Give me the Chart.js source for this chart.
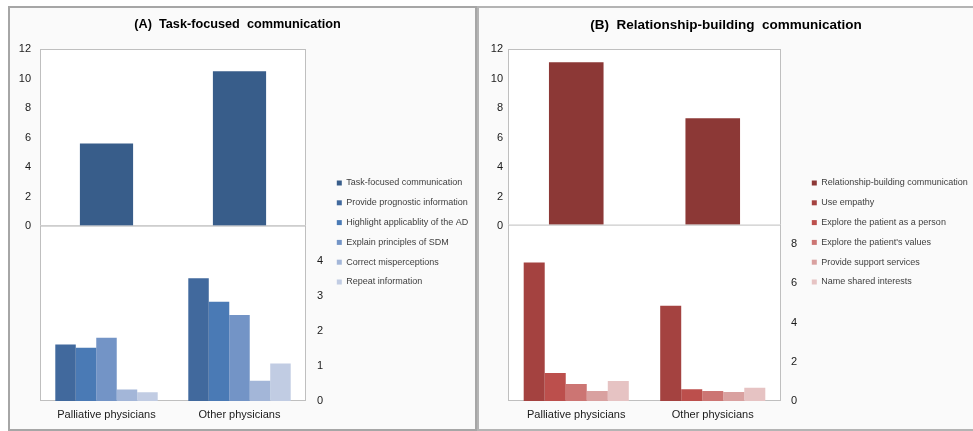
<!DOCTYPE html>
<html>
<head>
<meta charset="utf-8">
<script src="https://cdn.jsdelivr.net/npm/chart.js"></script>
<style>
  html, body { margin: 0; padding: 0; background: #fff; }
  body { width: 973px; height: 431px; position: relative; overflow: hidden; }
  .panel { position: absolute; top: 6px; height: 425px; box-sizing: border-box; background: #fafafa; border: 2px solid #a6a6a6; }
  #panelA { left: 8px; width: 469px; }
  #panelB { left: 477px; width: 510px; border-color: #b4b4b4; }
  canvas { position: absolute; }
</style>
</head>
<body>
<div class="panel" id="panelA"></div>
<div class="panel" id="panelB"></div>
<canvas id="taskUpper" width="475" height="421" style="left:0px;top:8px;width:475px;height:421px"></canvas>
<canvas id="taskLower" width="475" height="221" style="left:0px;top:208px;width:475px;height:221px"></canvas>
<canvas id="relUpper" width="494" height="421" style="left:479px;top:8px;width:494px;height:421px"></canvas>
<canvas id="relLower" width="494" height="221" style="left:479px;top:208px;width:494px;height:221px"></canvas>
<script>
const categories = ['Palliative physicians', 'Other physicians'];

// (A) task-focused communication
const taskSeries = 'Task-focused communication';
const taskTotals = [5.6, 10.5];
const taskItemNames = ['Provide prognostic information', 'Highlight applicablity of the AD', 'Explain principles of SDM', 'Correct misperceptions', 'Repeat information'];
const prognosticInfo = [1.61, 3.50];
const highlightAD = [1.52, 2.83];
const explainSDM = [1.80, 2.45];
const correctMisperceptions = [0.33, 0.58];
const repeatInfo = [0.25, 1.07];

// (B) relationship-building communication
const relSeries = 'Relationship-building communication';
const relTotals = [11.1, 7.3];
const relItemNames = ['Use empathy', 'Explore the patient as a person', "Explore the patient's values", 'Provide support services', 'Name shared interests'];
const useEmpathy = [7.06, 4.86];
const explorePerson = [1.43, 0.60];
const exploreValues = [0.87, 0.51];
const supportServices = [0.51, 0.46];
const sharedInterests = [1.02, 0.68];

// axis ticks
const upperTicks = [0, 2, 4, 6, 8, 10, 12];
const taskLowerTicks = [0, 1, 2, 3, 4];
const relLowerTicks = [0, 2, 4, 6, 8];

const blues = ['#385d8a', '#41699d', '#4a7ab5', '#7394c6', '#a3b6d8', '#c1cce3'];
const reds = ['#8c3836', '#a44240', '#bc4f4c', '#cc7573', '#d9a1a0', '#e6c3c3'];

Chart.defaults.font.family = '"Liberation Sans", Arial, sans-serif';
Chart.defaults.animation = false;
Chart.defaults.responsive = false;
Chart.defaults.events = [];

const tickColor = '#1a1a1a';
const noGrid = { display: false, drawTicks: false };

// white plot area with a light grey frame
const plotFrame = {
  id: 'plotFrame',
  beforeDraw(chart) {
    const { ctx, chartArea: a } = chart;
    ctx.save();
    ctx.fillStyle = '#fff';
    ctx.fillRect(a.left, a.top, a.width, a.height);
    ctx.strokeStyle = '#bfbfbf';
    ctx.lineWidth = 1;
    ctx.strokeRect(a.left + 0.5, a.top + 0.5, a.width - 1, a.height - 1);
    ctx.restore();
  }
};

function upperChart(id, o) {
  const names = [o.series].concat(o.itemNames);
  return new Chart(document.getElementById(id), {
    type: 'bar',
    data: {
      labels: categories,
      datasets: [{
        label: o.series,
        data: o.totals,
        backgroundColor: o.colors[0],
        borderWidth: 0,
        categoryPercentage: 1,
        barPercentage: 0.4
      }]
    },
    options: {
      plugins: {
        title: {
          display: true,
          text: o.title,
          color: '#000',
          font: { size: o.titleSize, weight: 'bold' },
          padding: { top: 9, bottom: 32 - 1.2 * o.titleSize }
        },
        legend: {
          position: 'right',
          maxWidth: o.legendWidth,
          onClick: null,
          title: { display: true, text: ' ', font: { size: 10 }, padding: { top: 16, bottom: 0 } },
          labels: {
            boxWidth: 5,
            boxHeight: 5,
            padding: 10.8,
            color: '#404040',
            font: { size: 9 },
            generateLabels: () => names.map((text, i) => ({
              text,
              fillStyle: o.colors[i],
              strokeStyle: o.colors[i],
              lineWidth: 0,
              hidden: false,
              datasetIndex: 0,
              fontColor: '#404040'
            }))
          }
        },
        tooltip: { enabled: false }
      },
      scales: {
        x: {
          grid: noGrid,
          border: { display: false },
          ticks: { display: false },
          afterFit: s => { s.height = 203; }
        },
        y: {
          position: 'left',
          min: 0,
          max: 12,
          grid: noGrid,
          border: { display: false },
          ticks: { padding: o.tickPad, color: tickColor, font: { size: 11 } },
          afterBuildTicks: s => { s.ticks = upperTicks.map(v => ({ value: v })); },
          afterFit: s => { s.width = o.leftWidth; }
        },
        gap: {
          type: 'linear',
          position: 'right',
          grid: noGrid,
          border: { display: false },
          ticks: { display: false },
          afterFit: s => { s.width = 20; }
        }
      }
    },
    plugins: [plotFrame]
  });
}

function lowerChart(id, o) {
  return new Chart(document.getElementById(id), {
    type: 'bar',
    data: {
      labels: categories,
      datasets: o.itemNames.map((label, i) => ({
        label,
        data: o.itemValues[i],
        backgroundColor: o.colors[i + 1],
        borderWidth: 0,
        categoryPercentage: 0.77,
        barPercentage: 1
      }))
    },
    options: {
      layout: { padding: { left: o.leftWidth, right: o.rightSpace, top: 8 } },
      plugins: {
        legend: { display: false },
        title: { display: false },
        tooltip: { enabled: false }
      },
      scales: {
        x: {
          grid: noGrid,
          border: { display: false },
          ticks: { color: tickColor, font: { size: 11 }, padding: 7, maxRotation: 0 },
          afterFit: s => { s.height = 28; }
        },
        y: {
          position: 'right',
          min: 0,
          max: o.lowerMax,
          grid: noGrid,
          border: { display: false },
          ticks: { padding: o.rightTickPad, color: tickColor, font: { size: 11 } },
          afterBuildTicks: s => { s.ticks = o.lowerTicks.map(v => ({ value: v })); },
          afterFit: s => { s.width = 20; }
        }
      }
    },
    plugins: [plotFrame]
  });
}

upperChart('taskUpper', {
  title: '(A)  Task-focused  communication', titleSize: 12.7,
  series: taskSeries, itemNames: taskItemNames, totals: taskTotals, colors: blues,
  leftWidth: 40, tickPad: 9, legendWidth: 149
});
lowerChart('taskLower', {
  itemNames: taskItemNames,
  itemValues: [prognosticInfo, highlightAD, explainSDM, correctMisperceptions, repeatInfo],
  colors: blues, lowerMax: 5, lowerTicks: taskLowerTicks,
  leftWidth: 40, rightSpace: 149, rightTickPad: 11
});
upperChart('relUpper', {
  title: '(B)  Relationship-building  communication', titleSize: 13.5,
  series: relSeries, itemNames: relItemNames, totals: relTotals, colors: reds,
  leftWidth: 29, tickPad: 5, legendWidth: 172
});
lowerChart('relLower', {
  itemNames: relItemNames,
  itemValues: [useEmpathy, explorePerson, exploreValues, supportServices, sharedInterests],
  colors: reds, lowerMax: 9, lowerTicks: relLowerTicks,
  leftWidth: 29, rightSpace: 172, rightTickPad: 10
});
</script>
</body>
</html>
